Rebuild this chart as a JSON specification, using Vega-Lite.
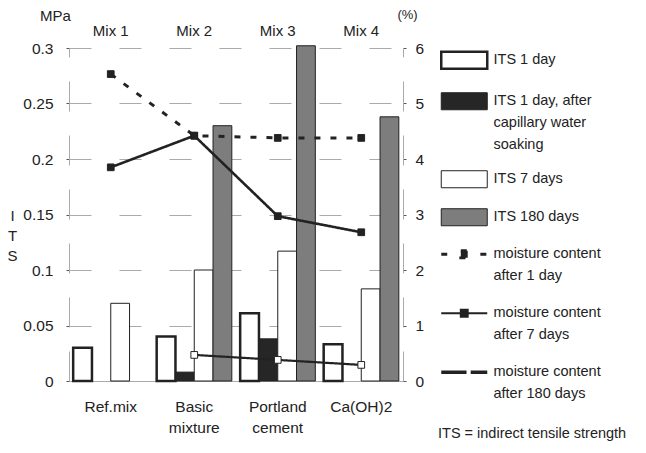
{
  "$schema": "https://vega.github.io/schema/vega-lite/v6.json",
  "width": 334,
  "height": 333,
  "autosize": {"type": "none"},
  "padding": {"left": 69, "top": 48, "right": 243, "bottom": 72},
  "background": "white",
  "title": {
    "text": "MPa",
    "anchor": "start",
    "frame": "group",
    "dx": -29,
    "dy": 20,
    "fontSize": 15,
    "fontWeight": "normal",
    "color": "#222"
  },
  "config": {
    "font": "Liberation Sans",
    "view": {"stroke": null},
    "axis": {"labelColor": "#222", "titleColor": "#222", "labelFont": "Liberation Sans", "titleFont": "Liberation Sans"},
    "legend": {"labelColor": "#222", "titleColor": "#222", "labelFont": "Liberation Sans", "titleFont": "Liberation Sans"}
  },
  "datasets": {
    "its": [
      {"mix": "Ref.mix", "series": "ITS 1 day", "its": 0.03},
      {"mix": "Ref.mix", "series": "ITS 7 days", "its": 0.07},
      {"mix": "Basic mixture", "series": "ITS 1 day", "its": 0.04},
      {"mix": "Basic mixture", "series": "ITS 1 day, after capillary water soaking", "its": 0.008},
      {"mix": "Basic mixture", "series": "ITS 7 days", "its": 0.1},
      {"mix": "Basic mixture", "series": "ITS 180 days", "its": 0.23},
      {"mix": "Portland cement", "series": "ITS 1 day", "its": 0.061},
      {"mix": "Portland cement", "series": "ITS 1 day, after capillary water soaking", "its": 0.038},
      {"mix": "Portland cement", "series": "ITS 7 days", "its": 0.117},
      {"mix": "Portland cement", "series": "ITS 180 days", "its": 0.302},
      {"mix": "Ca(OH)2", "series": "ITS 1 day", "its": 0.033},
      {"mix": "Ca(OH)2", "series": "ITS 7 days", "its": 0.083},
      {"mix": "Ca(OH)2", "series": "ITS 180 days", "its": 0.238}
    ],
    "moisture": [
      {"mix": "Ref.mix", "series": "after 1 day", "moisture": 5.53},
      {"mix": "Basic mixture", "series": "after 1 day", "moisture": 4.42},
      {"mix": "Portland cement", "series": "after 1 day", "moisture": 4.38},
      {"mix": "Ca(OH)2", "series": "after 1 day", "moisture": 4.38},
      {"mix": "Ref.mix", "series": "after 7 days", "moisture": 3.85},
      {"mix": "Basic mixture", "series": "after 7 days", "moisture": 4.42},
      {"mix": "Portland cement", "series": "after 7 days", "moisture": 2.97},
      {"mix": "Ca(OH)2", "series": "after 7 days", "moisture": 2.68},
      {"mix": "Basic mixture", "series": "after 180 days", "moisture": 0.47},
      {"mix": "Portland cement", "series": "after 180 days", "moisture": 0.38},
      {"mix": "Ca(OH)2", "series": "after 180 days", "moisture": 0.29}
    ]
  },
  "layer": [
    {
      "data": {"name": "its"},
      "mark": {"type": "bar", "stroke": "#222"},
      "encoding": {
        "x": {
          "field": "mix",
          "type": "nominal",
          "sort": ["Ref.mix", "Basic mixture", "Portland cement", "Ca(OH)2"],
          "scale": {"paddingInner": 0.1, "paddingOuter": 0.05},
          "axis": {
            "orient": "bottom",
            "title": null,
            "labelAngle": 0,
            "labelExpr": "split(datum.value, ' ')",
            "labelFontSize": 15.5,
            "labelLineHeight": 21,
            "labelPadding": 18,
            "ticks": false,
            "domainColor": "#aaa",
            "domainWidth": 1
          }
        },
        "xOffset": {
          "field": "series",
          "sort": ["ITS 1 day", "ITS 1 day, after capillary water soaking", "ITS 7 days", "ITS 180 days"],
          "scale": {"paddingInner": 0, "paddingOuter": 0}
        },
        "y": {
          "field": "its",
          "type": "quantitative",
          "scale": {"domain": [0, 0.3], "nice": false},
          "axis": {
            "orient": "left",
            "values": [0, 0.05, 0.1, 0.15, 0.2, 0.25, 0.3],
            "format": "~g",
            "labelFontSize": 15.5,
            "labelPadding": 13,
            "tickSize": 3,
            "tickColor": "#555",
            "domainColor": "#aaa",
            "domainDash": [30, 24],
            "grid": true,
            "gridColor": "#aaa",
            "gridWidth": 1.2,
            "gridDash": [22, 28],
            "title": ["I", "T", "S"],
            "titleAngle": 0,
            "titleFontSize": 15,
            "titleFontWeight": "normal",
            "titleLineHeight": 20,
            "titleAlign": "center",
            "titleBaseline": "top",
            "titleX": -57,
            "titleY": 160
          }
        },
        "fill": {
          "field": "series",
          "type": "nominal",
          "scale": {
            "domain": ["ITS 1 day", "ITS 1 day, after capillary water soaking", "ITS 7 days", "ITS 180 days"],
            "range": ["#ffffff", "#262626", "#ffffff", "#7d7d7d"]
          },
          "legend": {
            "title": null,
            "orient": "none",
            "legendX": 388,
            "legendY": 5,
            "symbolType": "M-1,-0.37H1V0.37H-1Z",
            "symbolSize": 2116,
            "symbolStrokeColor": "#222",
            "symbolStrokeWidth": 1,
            "labelFontSize": 14.5,
            "labelOffset": 22,
            "labelLimit": 300,
            "rowPadding": 16,
            "labelExpr": "datum.value === 'ITS 1 day, after capillary water soaking' ? ['ITS  1 day, after', 'capillary water', 'soaking'] : datum.label",
            "encode": {
              "symbols": {"update": {"strokeWidth": {"signal": "datum.value === 'ITS 1 day' ? 2.5 : 1"}, "stroke": {"value": "#222"}}},
              "labels": {"update": {"lineHeight": {"value": 22}}}
            }
          }
        },
        "strokeWidth": {
          "condition": {"test": "datum.series === 'ITS 1 day'", "value": 2.5},
          "value": 1
        }
      }
    },
    {
      "data": {"name": "moisture"},
      "encoding": {
        "x": {
          "field": "mix",
          "type": "nominal",
          "sort": ["Ref.mix", "Basic mixture", "Portland cement", "Ca(OH)2"],
          "axis": {
            "orient": "top",
            "title": null,
            "labelAngle": 0,
            "labelExpr": "'Mix ' + (indexof(['Ref.mix', 'Basic mixture', 'Portland cement', 'Ca(OH)2'], datum.value) + 1)",
            "labelFontSize": 15,
            "labelPadding": 10,
            "ticks": false,
            "domain": false,
            "encode": {
              "labels": {"update": {"dx": {"signal": "datum.value === 'Ref.mix' ? -16 : datum.value === 'Basic mixture' ? 2 : datum.value === 'Portland cement' ? 18 : 11"}}}
            }
          }
        },
        "y": {
          "field": "moisture",
          "type": "quantitative",
          "scale": {"domain": [0, 6], "nice": false},
          "axis": {
            "orient": "right",
            "values": [0, 1, 2, 3, 4, 5, 6],
            "labelFontSize": 15.5,
            "labelPadding": 9,
            "tickSize": 3,
            "tickColor": "#555",
            "domainColor": "#aaa",
            "domainDash": [30, 24],
            "grid": false,
            "title": "(%)",
            "titleAngle": 0,
            "titleFontSize": 13,
            "titleFontWeight": "normal",
            "titleAlign": "center",
            "titleBaseline": "middle",
            "titleX": 4,
            "titleY": -34
          }
        }
      },
      "layer": [
        {
          "mark": {"type": "line", "color": "#222"},
          "encoding": {
            "strokeDash": {
              "field": "series",
              "type": "nominal",
              "scale": {
                "domain": ["after 1 day", "after 7 days", "after 180 days"],
                "range": [[6, 10], [1, 0], [1, 0]]
              },
              "legend": {
                "title": "ITS = indirect tensile strength",
                "titleOrient": "bottom",
                "titleAnchor": "start",
                "titleFontSize": 14.5,
                "titleFontWeight": "normal",
                "titlePadding": 26,
                "titleLimit": 300,
                "orient": "none",
                "legendX": 369,
                "legendY": 199,
                "symbolOffset": 19,
                "symbolType": "M-1,0H1",
                "symbolSize": 2116,
                "symbolStrokeColor": "#222",
                "symbolFillColor": "#222",
                "labelFontSize": 14.5,
                "labelOffset": 22,
                "labelLimit": 300,
                "rowPadding": 22,
                "labelExpr": "['moisture content', datum.label]",
                "encode": {
                  "symbols": {"update": {
                    "shape": {"signal": "datum.value === 'after 1 day' ? 'M-1,0H-0.74M-0.15,-0.15H0.15V0.15H-0.15ZM0.7,0H0.98' : datum.value === 'after 7 days' ? 'M-1,0H1M-0.15,-0.15H0.15V0.15H-0.15Z' : 'M-1,0H0.1M0.28,0H1'"},
                    "strokeWidth": {"signal": "datum.value === 'after 1 day' ? 3 : datum.value === 'after 180 days' ? 3.5 : 2"},
                    "fill": {"value": "#222"},
                    "stroke": {"value": "#222"}
                  }},
                  "labels": {"update": {"lineHeight": {"value": 22}}}
                }
              }
            },
            "strokeWidth": {
              "field": "series",
              "type": "nominal",
              "scale": {
                "domain": ["after 1 day", "after 7 days", "after 180 days"],
                "range": [3, 2.2, 4]
              },
              "legend": null
            }
          }
        },
        {
          "mark": {"type": "point", "shape": "square", "size": 45, "filled": true, "stroke": "#222", "strokeWidth": 1, "opacity": 1},
          "encoding": {
            "fill": {
              "condition": {"test": "datum.series === 'after 180 days'", "value": "#ffffff"},
              "value": "#222"
            }
          }
        }
      ]
    }
  ],
  "resolve": {
    "scale": {"y": "independent", "strokeWidth": "independent"},
    "axis": {"x": "independent", "y": "independent"}
  }
}
